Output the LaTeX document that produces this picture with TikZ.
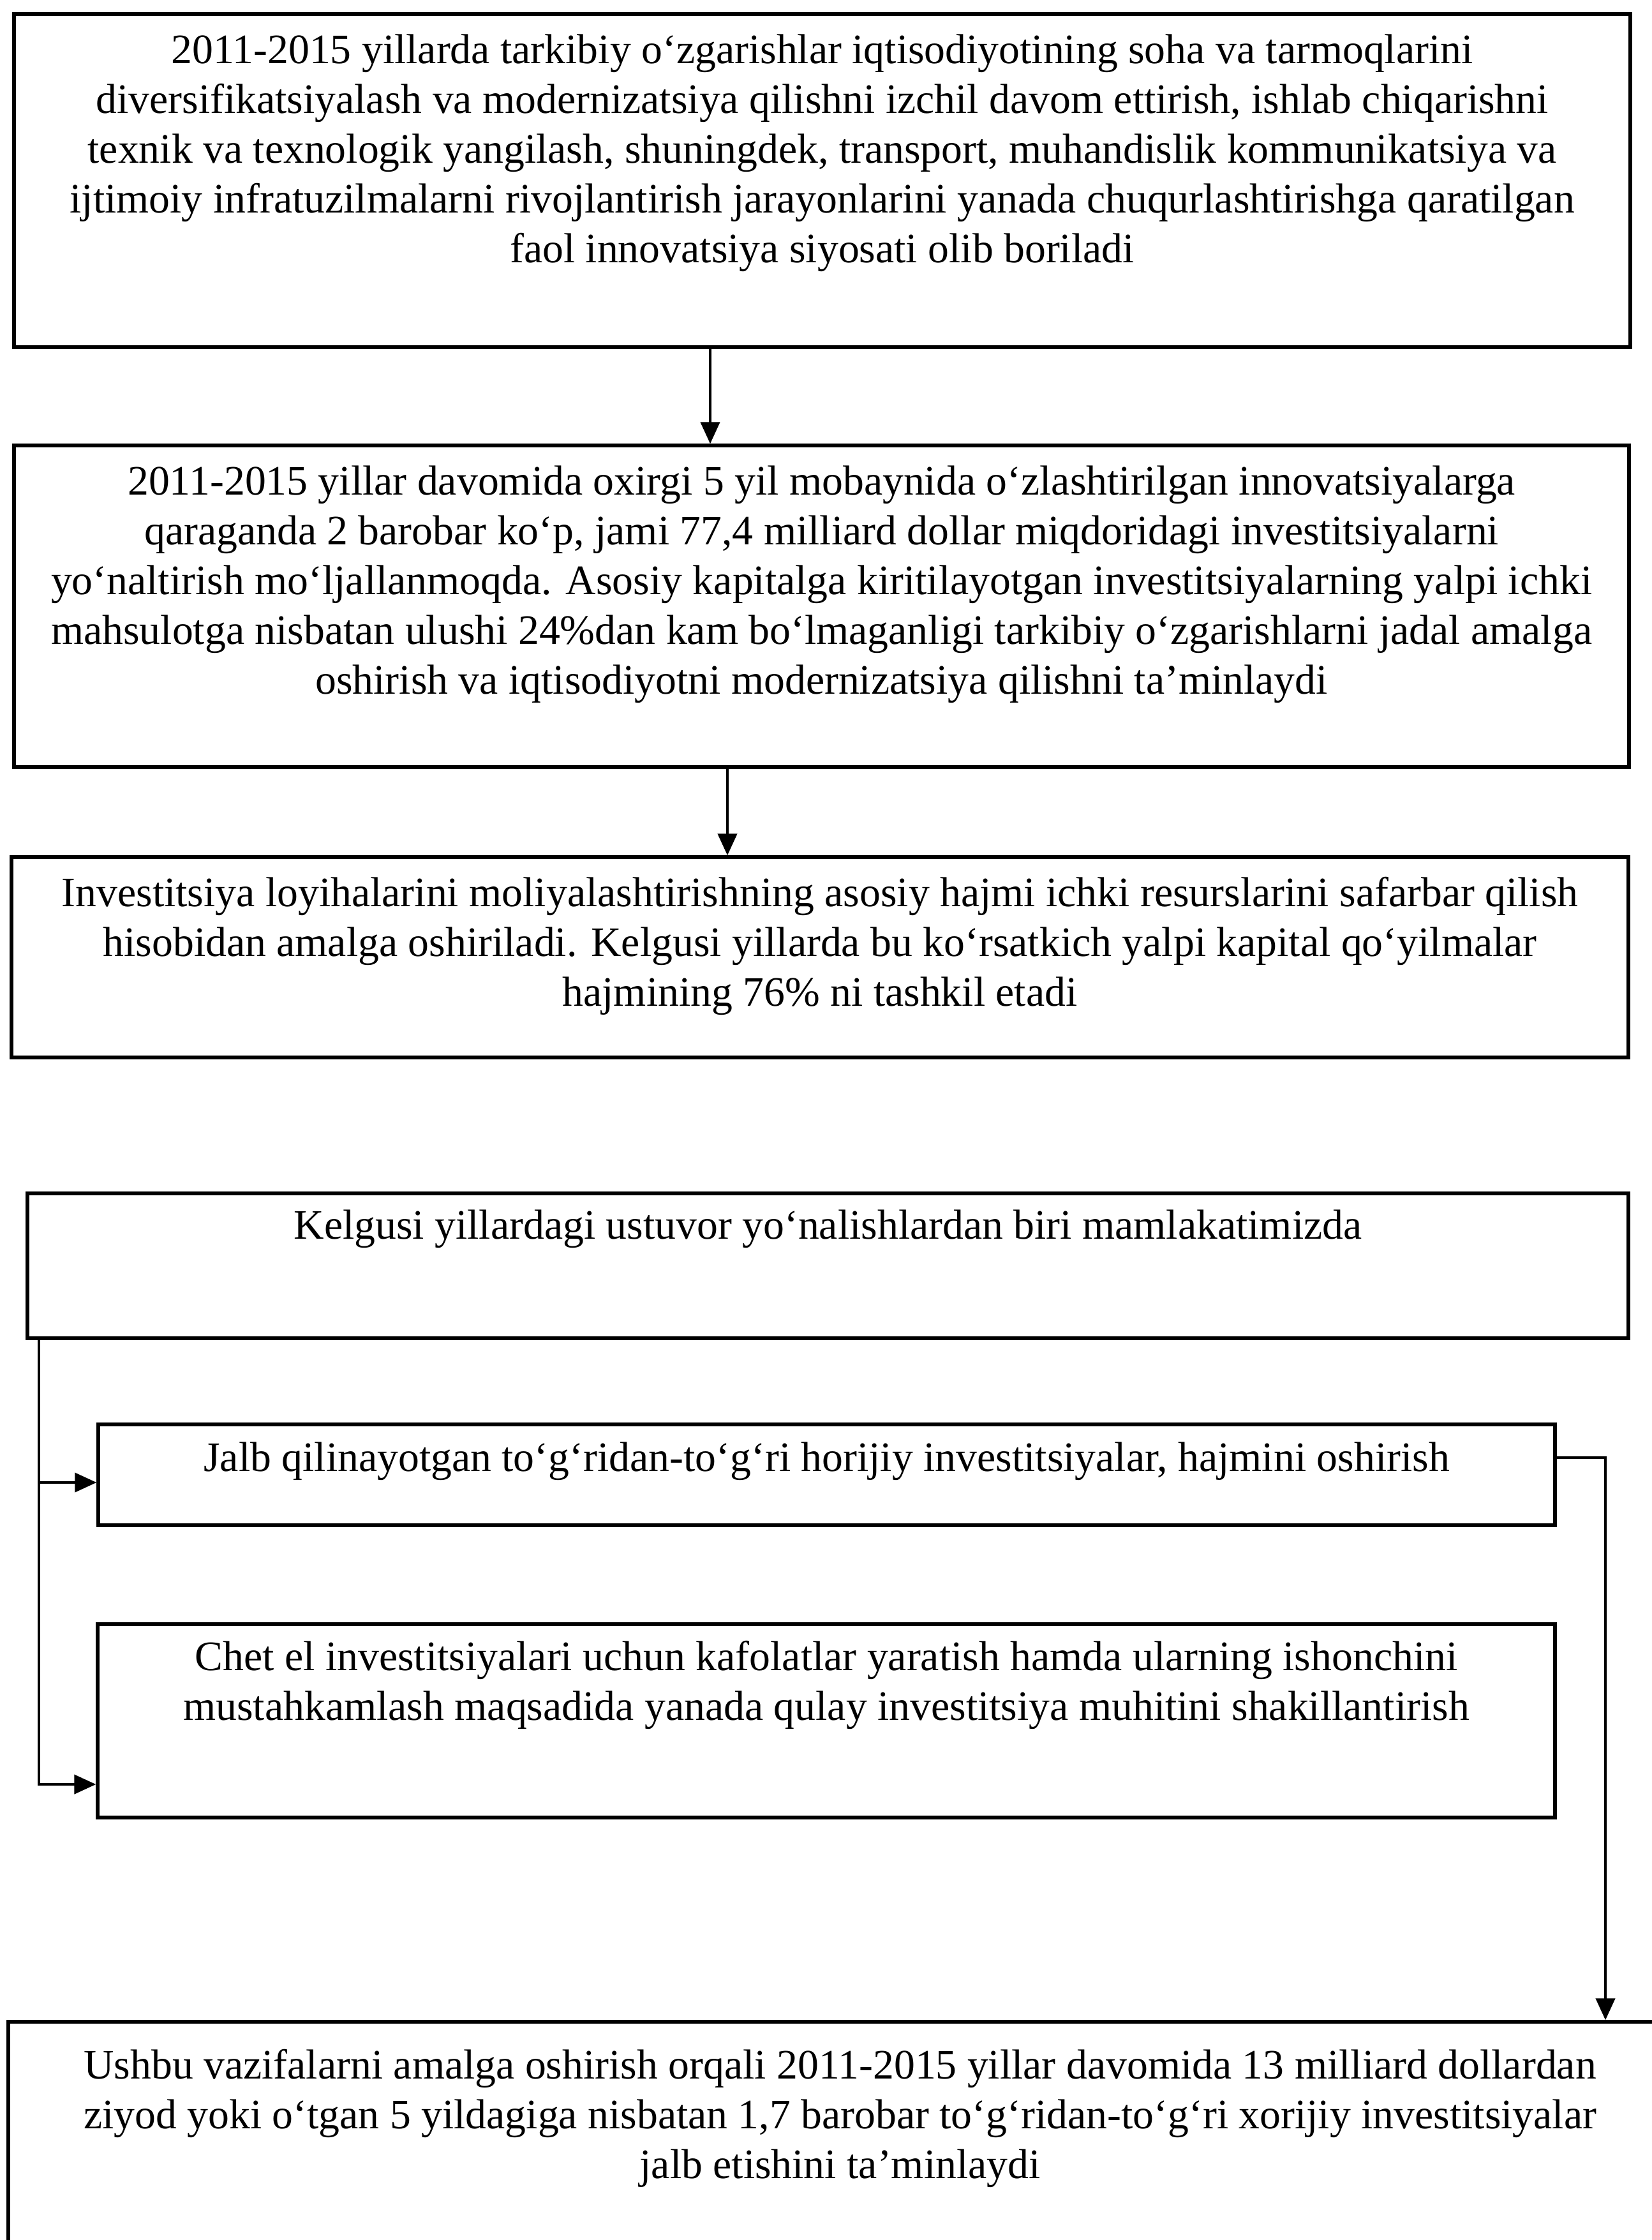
\documentclass[tikz,border=0pt]{standalone}
\usepackage{fontspec}
\setmainfont{Liberation Serif}
\usetikzlibrary{positioning,arrows.meta}

\begin{document}
\begin{tikzpicture}[
	box/.style={draw,line width=1.5pt,rectangle,inner sep=0pt},
	txt/.style={align=center,inner sep=0pt,font=\fontsize{18.7}{22.2}\selectfont},
	link/.style={line width=1.2pt,-{Triangle[length=3.4mm,width=3mm]}}
]
	\useasboundingbox (0,0) rectangle (25.88,-35.10);
	\node[box,minimum width=25.33cm,minimum height=5.22cm] (b1) at (12.885,-2.83) {};
	\node[box,minimum width=25.31cm,minimum height=5.04cm] (b2) at (12.875,-9.50) {};
	\node[box,minimum width=25.34cm,minimum height=3.14cm] (b3) at (12.85,-15.00) {};
	\node[box,minimum width=25.09cm,minimum height=2.27cm] (b4) at (12.975,-19.835) {};
	\node[box,minimum width=22.83cm,minimum height=1.58cm] (b5) at (12.955,-23.11) {};
	\node[box,minimum width=22.84cm,minimum height=3.03cm] (b6) at (12.95,-26.965) {};
	\node[box,minimum width=26.07cm,minimum height=3.92cm] (b7) at (13.165,-33.64) {};
	\node[txt,below=3.4mm of b1.north] (t1) {2011-2015 yillarda tarkibiy o‘zgarishlar iqtisodiyotining soha va tarmoqlarini\\diversifikatsiyalash va modernizatsiya qilishni izchil davom ettirish, ishlab chiqarishni\\texnik va texnologik yangilash, shuningdek, transport, muhandislik kommunikatsiya va\\ijtimoiy infratuzilmalarni rivojlantirish jarayonlarini yanada chuqurlashtirishga qaratilgan\\faol innovatsiya siyosati olib boriladi};
	\node[txt,below=3.4mm of b2.north] (t2) {2011-2015 yillar davomida oxirgi 5 yil mobaynida o‘zlashtirilgan innovatsiyalarga\\qaraganda 2 barobar ko‘p, jami 77,4 milliard dollar miqdoridagi investitsiyalarni\\yo‘naltirish mo‘ljallanmoqda. Asosiy kapitalga kiritilayotgan investitsiyalarning yalpi ichki\\mahsulotga nisbatan ulushi 24\%dan kam bo‘lmaganligi tarkibiy o‘zgarishlarni jadal amalga\\oshirish va iqtisodiyotni modernizatsiya qilishni ta’minlaydi};
	\node[txt,below=3.3mm of b3.north] (t3) {Investitsiya loyihalarini moliyalashtirishning asosiy hajmi ichki resurslarini safarbar qilish\\hisobidan amalga oshiriladi. Kelgusi yillarda bu ko‘rsatkich yalpi kapital qo‘yilmalar\\hajmining 76\% ni tashkil etadi};
	\node[txt,below=2.8mm of b4.north] (t4) {Kelgusi yillardagi ustuvor yo‘nalishlardan biri mamlakatimizda};
	\node[txt,below=3mm of b5.north] (t5) {Jalb qilinayotgan to‘g‘ridan-to‘g‘ri horijiy investitsiyalar, hajmini oshirish};
	\node[txt,below=2.8mm of b6.north] (t6) {Chet el investitsiyalari uchun kafolatlar yaratish hamda ularning ishonchini\\mustahkamlash maqsadida yanada qulay investitsiya muhitini shakillantirish};
	\node[txt,below=4.5mm of b7.north] (t7) {Ushbu vazifalarni amalga oshirish orqali 2011-2015 yillar davomida 13 milliard dollardan\\ziyod yoki o‘tgan 5 yildagiga nisbatan 1,7 barobar to‘g‘ridan-to‘g‘ri xorijiy investitsiyalar\\jalb etishini ta’minlaydi};
	\coordinate (k1) at (11.13,0);
	\coordinate (k2) at (11.40,0);
	\coordinate (k3) at (25.16,0);
	\coordinate (k4) at (0.61,0);
	\draw[link] (b1.south -| k1) -- (b2.north -| k1);
	\draw[link] (b2.south -| k2) -- (b3.north -| k2);
	\draw[link] (b4.south -| k4) |- ([yshift=-0.12cm]b5.west);
	\draw[link] (b4.south -| k4) |- ([yshift=-0.995cm]b6.west);
	\draw[link] ([yshift=0.27cm]b5.east) -| (b7.north -| k3);
\end{tikzpicture}
\end{document}
